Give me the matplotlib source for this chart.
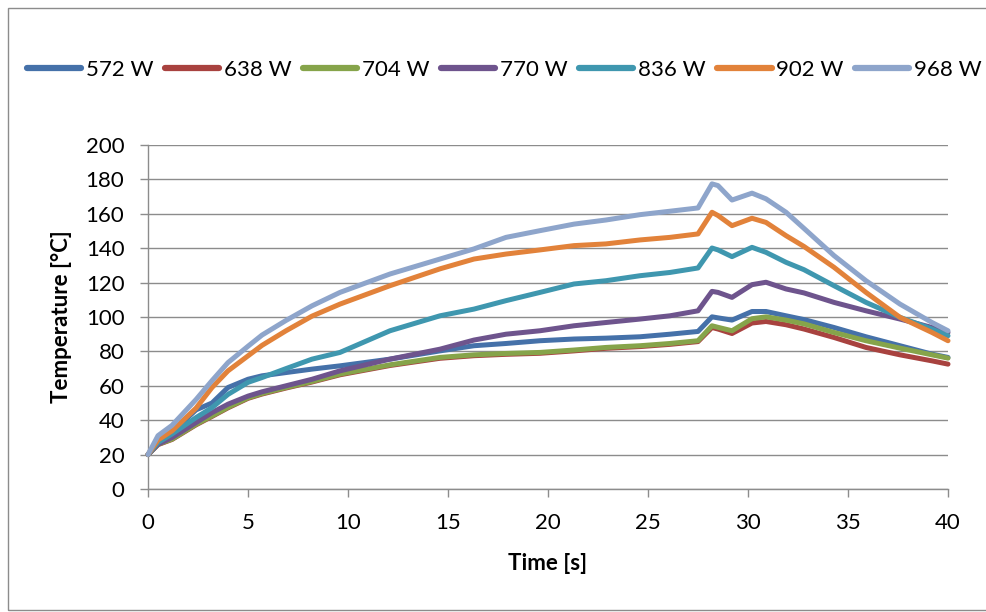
import matplotlib
matplotlib.use("Agg")
import matplotlib.pyplot as plt
from matplotlib.patches import Rectangle

plt.rcParams['font.family'] = ['Lato', 'DejaVu Sans']

# Measured temperature curves, one per heater power
time_s = [0, 0.5, 1.2, 2.4, 3.2, 4, 5, 5.7, 6.9, 8.2, 9.6, 12.1, 14.6, 16.3, 17.9,
          19.6, 21.3, 22.9, 24.6, 26.1, 27.5, 28.2, 28.5, 29.2, 30.2, 30.9, 31.9,
          32.8, 34.3, 35.9, 37.6, 39.2, 40]

t_572 = [20, 27, 33, 46, 50, 59, 63.8, 65.8, 67.7, 69.7, 71.6, 75.5, 80.3, 83.3, 84.6,
         86.2, 87.2, 87.7, 88.5, 90, 91.6, 100.1, 99.5, 98.2, 103.2, 103.2, 100.7,
         98.5, 93.9, 88.5, 83.3, 78.4, 76.5]
t_638 = [20, 25.8, 28.8, 37.3, 42.2, 47.2, 52.7, 55.2, 58.7, 62.2, 66.4, 71.8, 76, 77.5, 78.3,
         78.9, 80.3, 81.8, 82.8, 84.1, 85.7, 93.9, 93, 90.4, 96.5, 97.4, 95.5,
         93, 88.1, 82.3, 78, 74.5, 72.6]
t_704 = [20, 26, 29, 37.6, 42.5, 47.5, 53, 55.5, 59, 62.5, 66.8, 72.2, 76.5, 78, 78.8,
         79.4, 80.8, 82.3, 83.3, 84.6, 86.2, 94.9, 94, 92, 99, 100.1, 98.2,
         96, 91, 86.2, 81.9, 78, 76.1]
t_770 = [20, 26, 29.9, 38.6, 44.4, 49.3, 54, 56.5, 60, 63.8, 68.7, 75.5, 81.3, 86.6, 90,
         92, 94.9, 96.8, 98.8, 100.7, 103.6, 114.9, 114.3, 111.4, 118.8, 120.2, 116.3,
         114, 108.5, 103.6, 98.8, 93.9, 91]
t_836 = [20, 27, 32, 41.5, 47.3, 55, 62, 64.8, 70, 75.5, 79.4, 92, 100.7, 104.6, 109.5,
         114.3, 119.2, 121.1, 124, 125.9, 128.5, 140.1, 139, 135.1, 140.5, 137.6, 131.8,
         127.5, 118.2, 108.5, 99.8, 93, 89.1]
t_902 = [20, 28.5, 33.8, 47, 59, 68.7, 77.4, 83.5, 92, 100.5, 107.5, 118.2, 128, 133.7, 136.6,
         139, 141.5, 142.5, 144.8, 146.3, 148.3, 160.9, 159, 153.1, 157.4, 155, 147.3,
         141, 128.9, 114.3, 99.8, 91, 86.2]
t_968 = [20, 31, 37, 52, 63, 73.5, 83, 89.5, 98, 106.5, 114.3, 125, 133.7, 139.6, 146.3,
         150.2, 154, 156.4, 159.5, 161.5, 163.4, 177.4, 176.4, 168, 172, 168.7, 160.9,
         151.5, 135.7, 121.1, 107.5, 96.8, 92]

labels = ['572 W', '638 W', '704 W', '770 W', '836 W', '902 W', '968 W']
series = [t_572, t_638, t_704, t_770, t_836, t_902, t_968]
colors = ['#4571a9', '#a8423f', '#86a44a', '#6e548d', '#3f97af', '#e2823a', '#8ea5cb']

grid_col = '#8c8c8c'

fig = plt.figure(figsize=(9.86, 6.12), dpi=100)
# chart area frame
fig.patches.append(Rectangle((8 / 986, 2 / 612), 1.0, 602 / 612, transform=fig.transFigure,
                             fill=False, edgecolor=grid_col, linewidth=1.0))

ax = fig.add_axes([148 / 986, 1 - 489 / 612, 800 / 986, 344 / 612])

for vals, lab, c in zip(series, labels, colors):
    ax.plot(time_s, vals, color=c, lw=3.6, label=lab, clip_on=False,
            solid_joinstyle='round', solid_capstyle='round', zorder=3)

ax.set_xlim(0, 40)
ax.set_ylim(0, 200)
ax.set_xticks(range(0, 41, 5))
ax.set_yticks(range(0, 201, 20))
ax.yaxis.grid(True, color=grid_col, lw=1.0)
ax.set_axisbelow(True)

for s in ['top', 'right']:
    ax.spines[s].set_visible(False)
for s in ['left', 'bottom']:
    ax.spines[s].set_color(grid_col)
    ax.spines[s].set_linewidth(1.0)
ax.tick_params(axis='both', direction='out', length=6, width=1.0, color=grid_col,
               labelsize=16, pad=11)

ax.set_xlabel('Time [s]', fontsize=16, fontweight='bold')
ax.set_ylabel('Temperature [°C]', fontsize=16, fontweight='bold')
ax.xaxis.set_label_coords(0.5, -0.187)
ax.yaxis.set_label_coords(-0.095, 0.5)

leg = fig.legend(loc='center left', bbox_to_anchor=(27 / 986, 1 - 70 / 612), ncol=7,
                 frameon=False, fontsize=16, handlelength=2.45, handletextpad=0.2,
                 columnspacing=0.52, borderpad=0, borderaxespad=0)
for h in leg.get_lines():
    h.set_linewidth(4.5)
    h.set_solid_capstyle('round')

fig.savefig('out.png', dpi=100)
